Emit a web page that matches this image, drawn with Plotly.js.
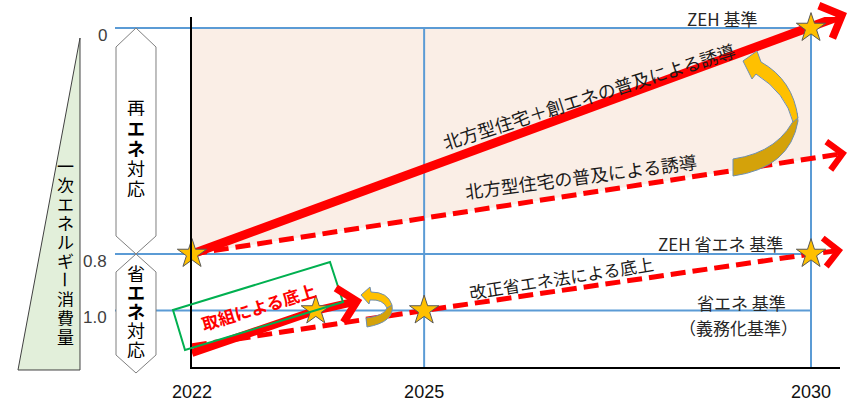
<!DOCTYPE html>
<html><head><meta charset="utf-8">
<script src="https://cdn.plot.ly/plotly-3.0.1.min.js"></script>
<style>html,body{margin:0;padding:0;background:#fff}#chart{width:860px;height:403px}</style>
</head><body><div id="chart"></div>
<script>
// ---------- data ----------
const yearTicks = [2022, 2025, 2030];
const yearTickText = ['2022', '2025', '2030'];
const levelTicks = [0, 0.8, 1.0];
const levelTickText = ['0', '0.8', '1.0'];

// 北方型住宅＋創エネ (ZEH) solid line (last point = arrow tip)
const zehSolidX = [2022, 2030, 2030.465];
const zehSolidY = [0.80, 0.00, -0.053];
// 北方型住宅 dashed line
const housingDashX = [2022, 2030, 2030.465];
const housingDashY = [0.80, 0.462, 0.442];
// 改正省エネ法 dashed line
const lawDashX = [2022, 2025, 2030, 2030.414];
const lawDashY = [1.125, 1.00, 0.80, 0.786];
// 取組による底上 solid line
const effortX = [2022, 2023.6, 2024.2];
const effortY = [1.15, 1.00, 0.963];
// stars
const starX = [2022, 2030, 2030, 2025, 2023.6];
const starY = [0.80, 0.00, 0.80, 1.00, 1.00];

// labels
const energyAxisChars = ['一','次','エ','ネ','ル','ギ','ー','消','費','量'];
const renewChars = ['再','エ','ネ','対','応'];
const saveChars = ['省','エ','ネ','対','応'];

// ---------- layout helpers (pixel frame of the plot area) ----------
const L = 192, R = 840, T = 17, B = 367, W = R - L, H = B - T;
const X0 = 2022, PXY = 77.375;              // px per year
const XMAX = X0 + W / PXY;
const Y0PX = 28, PXV = 282.5;               // px per unit of consumption
const YTOP = (T - Y0PX) / PXV, YBOT = (B - Y0PX) / PXV;
const px = x => (x - L) / W;                // page px -> paper x
const py = y => (B - y) / H;                // page px -> paper y
const d2p = (x, y) => [L + (x - X0) * PXY, Y0PX + y * PXV];
const p2d = (X, Y) => [X0 + (X - L) / PXY, (Y - Y0PX) / PXV];
function pathPx(cmds) {
  return cmds.map(c => {
    const op = c[0]; const nums = c.slice(1); const out = [];
    for (let i = 0; i < nums.length; i += 2) out.push(px(nums[i]).toFixed(5) + ',' + py(nums[i + 1]).toFixed(5));
    return op + out.join(' ');
  }).join(' ') + ' Z';
}

const RED = '#FF0000', BLUE = '#5B9BD5', GOLD = '#FFC000', GOLD_D = '#D4A20A', JP = 'Noto Sans CJK JP';

// arrow geometry: line stops at the chevron notch, chevron tip at last data point
const ann = [];
function arrowSeries(xs, ys, scale) {
  const n = xs.length;
  const tip = d2p(xs[n - 1], ys[n - 1]), prev = d2p(xs[n - 2], ys[n - 2]);
  const dx = tip[0] - prev[0], dy = tip[1] - prev[1], len = Math.hypot(dx, dy);
  const ux = dx / len, uy = dy / len;
  const back = 1.8 * scale - 1, tail = 1.6 * scale + 6;
  const lineEnd = p2d(tip[0] - ux * back, tip[1] - uy * back);
  const tailD = p2d(tip[0] - ux * tail, tip[1] - uy * tail);
  ann.push({x: xs[n - 1], y: ys[n - 1], xref: 'x', yref: 'y', axref: 'x', ayref: 'y',
    ax: tailD[0], ay: tailD[1], text: '', showarrow: true, arrowhead: 4, arrowwidth: 1,
    arrowsize: scale, arrowcolor: RED, font: {size: 1}, borderpad: 0});
  return {x: xs.slice(0, n - 1).concat([lineEnd[0]]), y: ys.slice(0, n - 1).concat([lineEnd[1]])};
}
const effortL = arrowSeries(effortX, effortY, 6.8);
const lawL = arrowSeries(lawDashX, lawDashY, 5.5);
const housingL = arrowSeries(housingDashX, housingDashY, 5.5);
const zehL = arrowSeries(zehSolidX, zehSolidY, 6.8);

// ---------- traces ----------
const traces = [
  {x: effortL.x, y: effortL.y, mode: 'lines', line: {color: RED, width: 8}, cliponaxis: false, hoverinfo: 'skip'},
  {x: lawL.x, y: lawL.y, mode: 'lines', line: {color: RED, width: 5, dash: '15px,7px'}, cliponaxis: false, hoverinfo: 'skip'},
  {x: housingL.x, y: housingL.y, mode: 'lines', line: {color: RED, width: 5, dash: '15px,7px'}, cliponaxis: false, hoverinfo: 'skip'},
  {x: zehL.x, y: zehL.y, mode: 'lines', line: {color: RED, width: 9}, cliponaxis: false, hoverinfo: 'skip'},
  {x: starX, y: starY, mode: 'markers', cliponaxis: false, hoverinfo: 'skip',
   marker: {symbol: 'star', size: 22, color: GOLD, line: {color: '#595959', width: 1}}}
];

// ---------- shapes ----------
const shapes = [];
shapes.push({type: 'path', xref: 'x', yref: 'y', layer: 'below', line: {width: 0}, fillcolor: '#FAEEE6',
  path: `M${zehSolidX[0]},${zehSolidY[0]} L${zehSolidX[0]},${zehSolidY[1]} L${zehSolidX[1]},${zehSolidY[1]} L${housingDashX[1]},${housingDashY[1]} Z`});
levelTicks.forEach(v => {
  shapes.push({type: 'line', xref: 'x', yref: 'y', layer: 'below', x0: X0, x1: yearTicks[2], y0: v, y1: v, line: {color: BLUE, width: 2}});
  shapes.push({type: 'line', xref: 'paper', yref: 'y', layer: 'below', x0: px(115), x1: 0, y0: v, y1: v, line: {color: BLUE, width: 2}});
});
[yearTicks[1], yearTicks[2]].forEach(yr => {
  shapes.push({type: 'line', xref: 'x', yref: 'y', layer: 'below', x0: yr, x1: yr, y0: levelTicks[0], y1: YBOT, line: {color: BLUE, width: 2}});
});
shapes.push({type: 'path', xref: 'paper', yref: 'paper', fillcolor: '#E2EFDA', line: {color: '#404040', width: 1},
  path: pathPx([['M', 80, 38], ['L', 80, 370], ['L', 18, 370]])});
shapes.push({type: 'path', xref: 'paper', yref: 'paper', fillcolor: '#FFFFFF', line: {color: '#7F7F7F', width: 1},
  path: pathPx([['M', 136, 28], ['L', 156, 47], ['L', 156, 236], ['L', 136, 254], ['L', 116, 236], ['L', 116, 47]])});
shapes.push({type: 'path', xref: 'paper', yref: 'paper', fillcolor: '#FFFFFF', line: {color: '#7F7F7F', width: 1},
  path: pathPx([['M', 136, 254], ['L', 156, 272], ['L', 156, 355], ['L', 136, 373], ['L', 116, 355], ['L', 116, 272]])});
shapes.push({type: 'path', xref: 'paper', yref: 'paper', fillcolor: 'rgba(0,0,0,0)', line: {color: '#00B050', width: 2},
  path: pathPx([['M', 173, 310], ['L', 330, 262], ['L', 343, 302], ['L', 185, 350]])});
shapes.push({type: 'path', xref: 'paper', yref: 'paper', fillcolor: GOLD_D, line: {color: '#6F8FAF', width: 1},
  path: pathPx([['M', 733, 159], ['Q', 781, 152, 797, 113], ['L', 798, 121], ['Q', 790, 168, 733, 176]])});
shapes.push({type: 'path', xref: 'paper', yref: 'paper', fillcolor: GOLD, line: {color: '#6F8FAF', width: 1},
  path: pathPx([['M', 743, 61], ['L', 757, 51], ['L', 761, 62], ['Q', 793, 80, 798, 118], ['L', 793, 122], ['Q', 786, 93, 756, 74], ['L', 752, 79]])});
shapes.push({type: 'path', xref: 'paper', yref: 'paper', fillcolor: GOLD_D, line: {color: '#6F8FAF', width: 1},
  path: pathPx([['M', 392, 305], ['Q', 395, 322, 367, 327], ['L', 366, 318], ['Q', 384, 316, 387, 308]])});
shapes.push({type: 'path', xref: 'paper', yref: 'paper', fillcolor: GOLD, line: {color: '#6F8FAF', width: 1},
  path: pathPx([['M', 361, 295], ['L', 370, 287], ['L', 371, 292], ['Q', 388, 292, 392, 305], ['L', 387, 308], ['Q', 383, 299, 370, 300], ['L', 369, 304]])});

// ---------- text annotations ----------
function txt(text, x, y, opt) {
  ann.push(Object.assign({text: text, x: px(x), y: py(y), xref: 'paper', yref: 'paper', showarrow: false,
    xanchor: 'center', yanchor: 'middle', font: {family: JP, size: 17, color: '#262626'}}, opt || {}));
}
txt('ZEH 基準', 722, 18);
txt('北方型住宅＋創エネの普及による誘導', 588, 96, {textangle: -17.8, font: {family: JP, size: 18, color: '#1A1A1A'}});
txt('北方型住宅の普及による誘導', 580, 176, {textangle: -7.5, font: {family: JP, size: 18, color: '#1A1A1A'}});
txt('ZEH 省エネ 基準', 720, 243);
txt('改正省エネ法による底上', 561, 277, {textangle: -9, font: {family: JP, size: 17, color: '#1A1A1A'}});
txt('省エネ 基準', 741, 302);
txt('（義務化基準）', 738, 327);
txt('<b>取組による底上</b>', 258, 306, {textangle: -17, font: {family: JP, size: 17, color: RED}});

levelTicks.forEach((v, i) => {
  ann.push({text: levelTickText[i], x: px(109), xref: 'paper', y: v, yref: 'y', yshift: -7, showarrow: false,
    xanchor: 'right', yanchor: 'middle', font: {family: 'Liberation Sans', size: 17, color: '#404040'}});
});
energyAxisChars.forEach((c, i) => {
  txt(c, 65, 165 + i * 19, {font: {family: JP, size: 17, color: '#000'}, height: 18, textangle: c === 'ー' ? 90 : 0});
});
renewChars.forEach((c, i) => {
  txt((c === 'エ' || c === 'ネ') ? '<b>' + c + '</b>' : c, 136, 107 + i * 20, {font: {family: JP, size: 18, color: '#000'}, height: 19});
});
saveChars.forEach((c, i) => {
  txt((c === 'エ' || c === 'ネ') ? '<b>' + c + '</b>' : c, 136, 273 + i * 19, {font: {family: JP, size: 18, color: '#000'}, height: 18});
});

const layout = {
  width: 860, height: 403,
  margin: {l: L, r: 860 - R, t: T, b: 403 - B, pad: 0},
  paper_bgcolor: '#FFFFFF', plot_bgcolor: '#FFFFFF',
  showlegend: false,
  xaxis: {range: [X0, XMAX], showgrid: false, zeroline: false, showline: true, linecolor: '#000', linewidth: 2,
    tickvals: yearTicks, ticktext: yearTickText, ticks: '', ticklabelstandoff: 7,
    tickfont: {family: 'Liberation Sans', size: 18, color: '#111'}, fixedrange: true},
  yaxis: {range: [YBOT, YTOP], showgrid: false, zeroline: false, showline: true, linecolor: '#000', linewidth: 2,
    showticklabels: false, ticks: '', fixedrange: true},
  shapes: shapes,
  annotations: ann
};
Plotly.newPlot('chart', traces, layout, {displayModeBar: false, staticPlot: true});
</script></body></html>
